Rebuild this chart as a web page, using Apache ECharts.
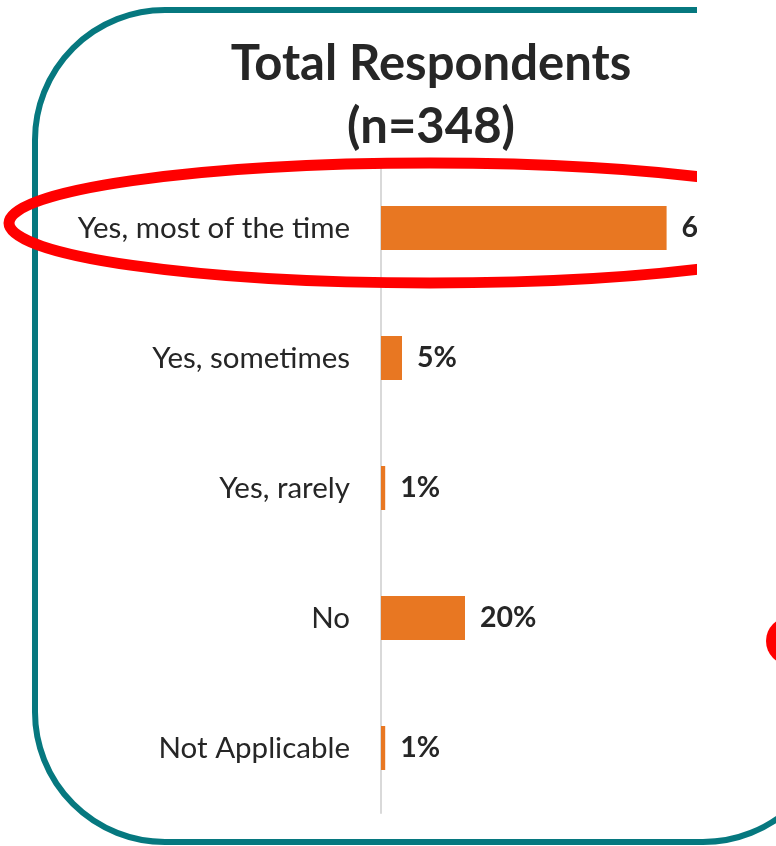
<!DOCTYPE html>
<html>
<head>
<meta charset="utf-8">
<script src="https://cdn.jsdelivr.net/npm/echarts@6/dist/echarts.min.js"></script>
<style>
html,body{margin:0;padding:0;background:#fff;}
#chart{width:776px;height:846px;}
</style>
</head>
<body>
<div id="chart"></div>
<script>
var categories = ['Yes, most of the time', 'Yes, sometimes', 'Yes, rarely', 'No', 'Not Applicable'];
var values = [68, 5, 1, 20, 1];
var titleText = 'Total Respondents\n(n=348)';

var chart = echarts.init(document.getElementById('chart'), null, {renderer: 'canvas'});
var FONT = 'Lato';
var TEAL = '#06787F';
var BW = 6;
var borderStyle = {fill: null, stroke: TEAL, lineWidth: BW};
var option = {
  backgroundColor: '#ffffff',
  animation: false,
  title: {
    text: titleText,
    left: 431,
    top: 33,
    textAlign: 'center',
    padding: 0,
    textStyle: {
      fontFamily: FONT,
      fontSize: 49,
      fontWeight: 'bold',
      lineHeight: 63,
      color: '#262626'
    }
  },
  grid: {left: 381, top: 163, width: 315, height: 650, containLabel: false},
  xAxis: {
    type: 'value', min: 0, max: 75, show: false
  },
  yAxis: {
    type: 'category',
    inverse: true,
    data: categories,
    axisLine: {show: true, lineStyle: {color: '#D9D9D9', width: 2}},
    axisTick: {show: false},
    axisLabel: {
      margin: 31,
      fontFamily: FONT,
      fontSize: 29.5,
      color: '#262626'
    }
  },
  series: [{
    type: 'bar',
    data: values,
    barWidth: 44,
    itemStyle: {color: '#E87722'},
    label: {
      show: true,
      position: 'right',
      distance: 15,
      formatter: '{c}%',
      fontFamily: FONT,
      fontSize: 28.5,
      fontWeight: 'bold',
      color: '#262626',
      padding: [4, 0, 0, 0]
    }
  }],
  graphic: [
    {type: 'line', z: 40, shape: {x1: 165, y1: 10, x2: 697, y2: 10}, style: borderStyle},
    {type: 'arc', z: 40, shape: {cx: 165, cy: 140, r: 130, startAngle: Math.PI, endAngle: Math.PI * 1.5, clockwise: true}, style: borderStyle},
    {type: 'line', z: 40, shape: {x1: 35, y1: 140, x2: 35, y2: 712}, style: borderStyle},
    {type: 'arc', z: 40, shape: {cx: 165, cy: 712, r: 130, startAngle: Math.PI * 0.5, endAngle: Math.PI, clockwise: true}, style: borderStyle},
    {type: 'line', z: 40, shape: {x1: 165, y1: 842, x2: 703, y2: 842}, style: borderStyle},
    {type: 'arc', z: 40, shape: {cx: 703, cy: 712, r: 130, startAngle: 0, endAngle: Math.PI * 0.5, clockwise: true}, style: borderStyle},
    {
      type: 'ellipse',
      z: 50,
      shape: {cx: 430, cy: 223, rx: 421, ry: 60},
      style: {fill: null, stroke: '#FF0000', lineWidth: 11}
    },
    {
      type: 'rect',
      z: 60,
      shape: {x: 697, y: 0, width: 79, height: 780},
      style: {fill: '#ffffff'}
    },
    {
      type: 'circle',
      z: 70,
      shape: {cx: 790, cy: 641, r: 24},
      style: {fill: '#FF0000'}
    }
  ]
};
chart.setOption(option);
</script>
</body>
</html>
